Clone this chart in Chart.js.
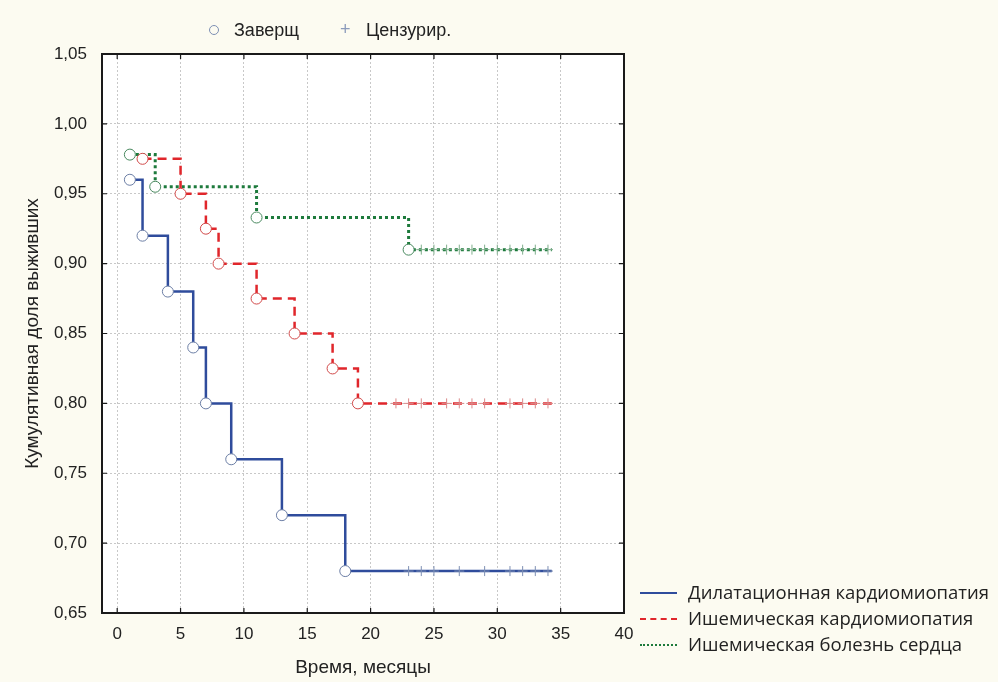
<!DOCTYPE html>
<html>
<head>
<meta charset="utf-8">
<script src="https://cdn.jsdelivr.net/npm/chart.js@4/dist/chart.umd.min.js"></script>
<style>
  body{margin:0;background:#fcfbf1;}
  #wrap{position:relative;width:998px;height:682px;}
  .lg{position:absolute;font-family:"Liberation Sans",Arial,sans-serif;font-size:18px;color:#222;white-space:nowrap;line-height:22px;}
  .lg2{position:absolute;font-family:"Open Sans",sans-serif;font-size:18.5px;color:#222;white-space:nowrap;line-height:24px;}
  .ln{position:absolute;width:37px;height:0;}
  .circ{position:absolute;width:8px;height:8px;border:1px solid #7d8fb3;border-radius:50%;}
  .plus{position:absolute;color:#8b9bbb;font-family:"Liberation Sans",Arial;font-size:18px;line-height:22px;}
</style>
</head>
<body>
<div id="wrap">
<canvas id="km" width="998" height="682"></canvas>
<div class="circ" style="left:209px;top:25px;"></div>
<div class="lg" style="left:234px;top:19px;">Заверщ</div>
<div class="plus" style="left:340px;top:18px;">+</div>
<div class="lg" style="left:366px;top:19px;">Цензурир.</div>
<div class="ln" style="left:640px;top:592px;border-top:2.5px solid #2f4c9c;"></div>
<div class="lg2" style="left:688px;top:580px;">Дилатационная кардиомиопатия</div>
<div class="ln" style="left:640px;top:618px;border-top:2.5px dashed #e0262b;"></div>
<div class="lg2" style="left:688px;top:606px;">Ишемическая кардиомиопатия</div>
<div class="ln" style="left:640px;top:644px;border-top:2.5px dotted #1d7a3c;"></div>
<div class="lg2" style="left:688px;top:632px;">Ишемическая болезнь сердца</div>
</div>
<script>
// Дилатационная кардиомиопатия
var dilMonths=[1,2,4,6,7,9,13,18]
var dilSurv=[0.96,0.92,0.88,0.84,0.80,0.76,0.72,0.68]
var dilCens=[23,24,25,27,29,31,32,33,34]
// Ишемическая кардиомиопатия
var ikmMonths=[2,5,7,8,11,14,17,19]
var ikmSurv=[0.975,0.95,0.925,0.90,0.875,0.85,0.825,0.80]
var ikmCens=[22,23,24,26,27,28,29,31,32,33,34]
// Ишемическая болезнь сердца
var ibsMonths=[1,3,11,23]
var ibsSurv=[0.978,0.955,0.933,0.91]
var ibsCens=[24,25,26,27,28,29,30,31,32,33,34]
var lastMonth=34.3

var xTicks=[0,5,10,15,20,25,30,35,40]
var yTicks=[0.65,0.70,0.75,0.80,0.85,0.90,0.95,1.00,1.05]

function stepPts(m,s){
    var pts=m.map(function(v,i){return {x:v,y:s[i]}})
    pts.push({x:lastMonth,y:s[s.length-1]})
    return pts
}
function evPts(m,s){
    return m.map(function(v,i){return {x:v,y:s[i]}})
}
function cenPts(c,s){
    return c.map(function(v){return {x:v,y:s[s.length-1]}})
}

var frame={
    id:'frame',
    beforeDraw:function(chart){
        var a=chart.chartArea,ctx=chart.ctx
        ctx.save()
        ctx.fillStyle='#fcfbf1'
        ctx.fillRect(0,0,chart.width,chart.height)
        ctx.fillStyle='#ffffff'
        ctx.fillRect(a.left,a.top,a.right-a.left,a.bottom-a.top)
        ctx.restore()
    },
    afterDraw:function(chart){
        var a=chart.chartArea,ctx=chart.ctx
        var xs=chart.scales.x,ys=chart.scales.y
        ctx.save()
        ctx.strokeStyle='#1a1a1a'
        ctx.lineWidth=1.2
        ctx.beginPath()
        xTicks.forEach(function(t){
            var px=xs.getPixelForValue(t)
            ctx.moveTo(px,a.bottom);ctx.lineTo(px,a.bottom-5)
            ctx.moveTo(px,a.top);ctx.lineTo(px,a.top+5)
        })
        yTicks.forEach(function(t){
            var py=ys.getPixelForValue(t)
            ctx.moveTo(a.left,py);ctx.lineTo(a.left+5,py)
            ctx.moveTo(a.right,py);ctx.lineTo(a.right-5,py)
        })
        ctx.stroke()
        ctx.lineWidth=2
        ctx.strokeRect(a.left,a.top,a.right-a.left,a.bottom-a.top)
        ctx.restore()
    }
}

var tickFont={family:'"Liberation Sans", Arial',size:17}
var titleFont={family:'"Liberation Sans", Arial',size:19}

// circles first so they end up on top
new Chart("km",{
    type:"scatter",
    data:{
        datasets:[
            {data:evPts(dilMonths,dilSurv),pointStyle:'circle',pointRadius:5.5,backgroundColor:'#ffffff',borderColor:'#6d7fa6',borderWidth:1},
            {data:evPts(ikmMonths,ikmSurv),pointStyle:'circle',pointRadius:5.5,backgroundColor:'#ffffff',borderColor:'#d24a4a',borderWidth:1},
            {data:evPts(ibsMonths,ibsSurv),pointStyle:'circle',pointRadius:5.5,backgroundColor:'#ffffff',borderColor:'#4a8a60',borderWidth:1},
            {data:cenPts(dilCens,dilSurv),pointStyle:'cross',pointRadius:5,borderColor:'#7d8fb3',borderWidth:1},
            {data:cenPts(ikmCens,ikmSurv),pointStyle:'cross',pointRadius:5,borderColor:'#d98a8a',borderWidth:1},
            {data:cenPts(ibsCens,ibsSurv),pointStyle:'cross',pointRadius:5,borderColor:'#7fae8c',borderWidth:1},
            {data:stepPts(dilMonths,dilSurv),showLine:true,stepped:'before',borderColor:'#2f4c9c',borderWidth:2.5,pointRadius:0},
            {data:stepPts(ikmMonths,ikmSurv),showLine:true,stepped:'before',borderColor:'#e0262b',borderWidth:2.5,borderDash:[9,6],pointRadius:0},
            {data:stepPts(ibsMonths,ibsSurv),showLine:true,stepped:'before',borderColor:'#1d7a3c',borderWidth:3,borderDash:[3,3],pointRadius:0}
        ]
    },
    options:{
        responsive:false,
        animation:false,
        layout:{padding:{left:10,top:54,right:374,bottom:3}},
        plugins:{legend:{display:false},tooltip:{enabled:false}},
        scales:{
            x:{
                type:'linear',min:-1.2,max:40,
                afterFit:function(s){s.height=66},
                afterBuildTicks:function(s){s.ticks=xTicks.map(function(v){return {value:v}})},
                ticks:{padding:11,color:'#222',font:tickFont,callback:function(v){return v}},
                grid:{drawTicks:false,color:'#c8c8c8',lineWidth:1},
                border:{display:false,dash:[2,2]},
                title:{display:true,text:'Время, месяцы',color:'#222',font:titleFont,padding:{top:0,bottom:0}}
            },
            y:{
                min:0.65,max:1.05,
                afterFit:function(s){s.width=92},
                afterBuildTicks:function(s){s.ticks=yTicks.map(function(v){return {value:v}})},
                ticks:{padding:15,color:'#222',font:tickFont,callback:function(v){return v.toFixed(2).replace('.',',')}},
                grid:{drawTicks:false,color:'#c8c8c8',lineWidth:1},
                border:{display:false,dash:[2,2]},
                title:{display:true,text:'Кумулятивная доля выживших',color:'#222',font:titleFont,padding:{top:11,bottom:0}}
            }
        }
    },
    plugins:[frame]
})
</script>
</body>
</html>
